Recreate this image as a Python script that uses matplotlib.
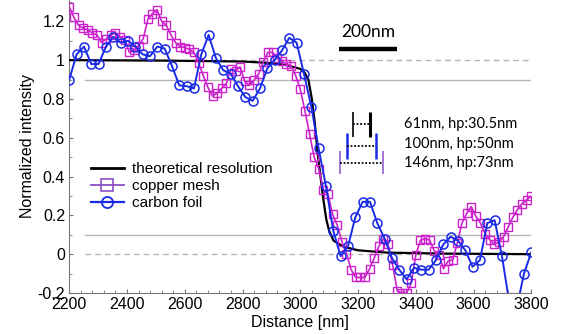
import numpy as np
import matplotlib
matplotlib.use("Agg")
import matplotlib.pyplot as plt
from matplotlib.lines import Line2D
from matplotlib.ticker import MultipleLocator

plt.rcParams['font.family'] = ['Liberation Sans', 'DejaVu Sans']

# sampled profiles (distance in nm)
copper_x = np.arange(2200, 3801, 16)
copper_y = [1.275, 1.22, 1.18, 1.165, 1.155, 1.14, 1.13, 1.09, 1.11, 1.13,
            1.14, 1.12, 1.105, 1.04, 1.05, 1.075, 1.11, 1.21, 1.24, 1.26,
            1.20, 1.18, 1.13, 1.09, 1.07, 1.065, 1.055, 1.04, 0.985, 0.92,
            0.86, 0.815, 0.83, 0.855, 0.88, 0.955, 0.945, 0.965, 0.89, 0.87,
            0.897, 0.93, 0.99, 1.04, 1.04, 1.01, 0.995, 0.98, 0.97, 0.92,
            0.85, 0.74, 0.62, 0.50, 0.44, 0.33, 0.31, 0.205, 0.15, 0.065,
            0.003, -0.08, -0.12, -0.12, -0.12, -0.075, -0.02, 0.04, 0.08, 0.05,
            -0.057, -0.19, -0.20, -0.20, -0.15, -0.005, 0.072, 0.08, 0.072, 0.017,
            -0.005, -0.075, -0.035, -0.03, 0.06, 0.16, 0.21, 0.245, 0.195, 0.16,
            0.105, 0.075, 0.05, 0.065, 0.09, 0.14, 0.19, 0.23, 0.26, 0.28, 0.30]

carbon_x = np.linspace(2200, 3800, 64)
carbon_y = [0.90, 1.03, 1.07, 0.98, 0.98, 1.07, 1.12, 1.09, 1.10, 1.07,
            1.03, 1.02, 1.07, 1.06, 0.97, 0.87, 0.866, 0.854, 1.03, 1.13,
            1.01, 0.948, 0.93, 0.866, 0.81, 0.79, 0.854, 0.957, 1.0, 1.05,
            1.115, 1.09, 0.93, 0.76, 0.545, 0.35, 0.12, -0.01, 0.04, 0.19,
            0.27, 0.27, 0.16, 0.08, -0.02, -0.08, -0.13, -0.07, -0.08, -0.08,
            -0.03, 0.05, 0.09, 0.07, 0.02, -0.065, -0.03, 0.16, 0.175, -0.01,
            -0.25, -0.28, -0.10, 0.01]

theory_x = [2200, 2500, 2800, 2900, 2950, 3000, 3015, 3028, 3040, 3050,
            3060, 3070, 3080, 3090, 3100, 3115, 3150, 3200, 3300, 3500, 3800]
theory_y = [1.0, 0.998, 0.993, 0.985, 0.975, 0.955, 0.935, 0.90, 0.80, 0.68,
            0.52, 0.40, 0.28, 0.18, 0.12, 0.07, 0.038, 0.02, 0.008, 0.003, 0.0]

# resolution brackets: width in nm, label
widths = [61, 100, 146]
labels = ['61nm, hp:30.5nm', '100nm, hp:50nm', '146nm, hp:73nm']

fig = plt.figure(figsize=(5.66, 3.34), dpi=100)
ax = fig.add_axes([0.1224, 0.1228, 0.8163, 0.8772])

gray = '#b4b4b4'
ax.plot([2255, 3800], [0.9, 0.9], color=gray, lw=1)
ax.plot([2255, 3800], [0.1, 0.1], color=gray, lw=1)
ax.plot([2255, 3800], [1.0, 1.0], color=gray, lw=1, ls=(0, (4, 3)))
ax.plot([2255, 3800], [0.0, 0.0], color=gray, lw=1, ls=(0, (4, 3)))

magenta = '#cc22cc'
blue = '#1a2be6'
ax.plot(theory_x, theory_y, color='black', lw=1.6, zorder=3)
ax.plot(copper_x, copper_y, color=magenta, lw=1.2, marker='s', ms=6,
        mfc='none', mec=magenta, mew=1.0, zorder=4)
ax.plot(carbon_x, carbon_y, color=blue, lw=1.4, marker='o', ms=6.5,
        mfc='none', mec=blue, mew=1.1, zorder=5)

# scale bar
ax.plot([3135, 3335], [1.058, 1.058], color='black', lw=3.2, solid_capstyle='butt')
ax.text(3235, 1.145, '200nm', ha='center', va='center', fontsize=12.5,
        family=['Lato', 'DejaVu Sans'])

# brackets
centre = 3212
bar_cols = ['black', '#1a2be6', '#8a4fc4']
bar_lw = [(1.2, 2.2), (1.8, 1.8), (1.1, 1.1)]
bar_y = [(0.605, 0.735), (0.49, 0.625), (0.415, 0.53)]
mid_y = [0.67, 0.56, 0.47]
text_y = [0.672, 0.57, 0.472]
for w, lab, c, lws, by, my, ty in zip(widths, labels, bar_cols, bar_lw, bar_y, mid_y, text_y):
    ax.plot([centre - w / 2] * 2, by, color=c, lw=lws[0], solid_capstyle='butt')
    ax.plot([centre + w / 2] * 2, by, color=c, lw=lws[1], solid_capstyle='butt')
    ax.plot([centre - w / 2, centre + w / 2], [my, my], color='black', lw=1.3,
            ls=(0, (1, 1)))
    ax.text(3359, ty, lab, ha='left', va='center', fontsize=10.5,
            family=['Lato', 'DejaVu Sans'])

handles = [Line2D([], [], color='black', lw=2),
           Line2D([], [], color='#8a4fc4', lw=1.3, marker='s', ms=8, mfc='none', mew=1.2),
           Line2D([], [], color='#1a2be6', lw=1.6, marker='o', ms=8, mfc='none', mew=1.3)]
ax.legend(handles, ['theoretical resolution', 'copper mesh', 'carbon foil'],
          loc='center left', bbox_to_anchor=(0.046, 0.365), frameon=False,
          fontsize=11, handlelength=2.2, handletextpad=0.5, labelspacing=0.2,
          borderpad=0, borderaxespad=0)

ax.set_xlim(2200, 3800)
ax.set_ylim(-0.2, 1.31)
ax.set_xticks(np.arange(2200, 3801, 200))
ax.set_yticks([-0.2, 0, 0.2, 0.4, 0.6, 0.8, 1, 1.2])
ax.set_yticklabels(['-0.2', '0', '0.2', '0.4', '0.6', '0.8', '1', '1.2'])
ax.xaxis.set_minor_locator(MultipleLocator(40))
ax.yaxis.set_minor_locator(MultipleLocator(0.1))
ax.tick_params(which='both', direction='in', labelsize=11.5, color='#777777')
ax.tick_params(which='major', length=3, pad=3)
ax.tick_params(which='minor', length=2.5)
for s in ['top', 'right']:
    ax.spines[s].set_visible(False)
for s in ['left', 'bottom']:
    ax.spines[s].set_color('#777777')

ax.set_xlabel('Distance [nm]', fontsize=11.5, labelpad=2)
ax.set_ylabel('Normalized intensity', fontsize=11.5, labelpad=2)

fig.savefig('out.png', dpi=100)
